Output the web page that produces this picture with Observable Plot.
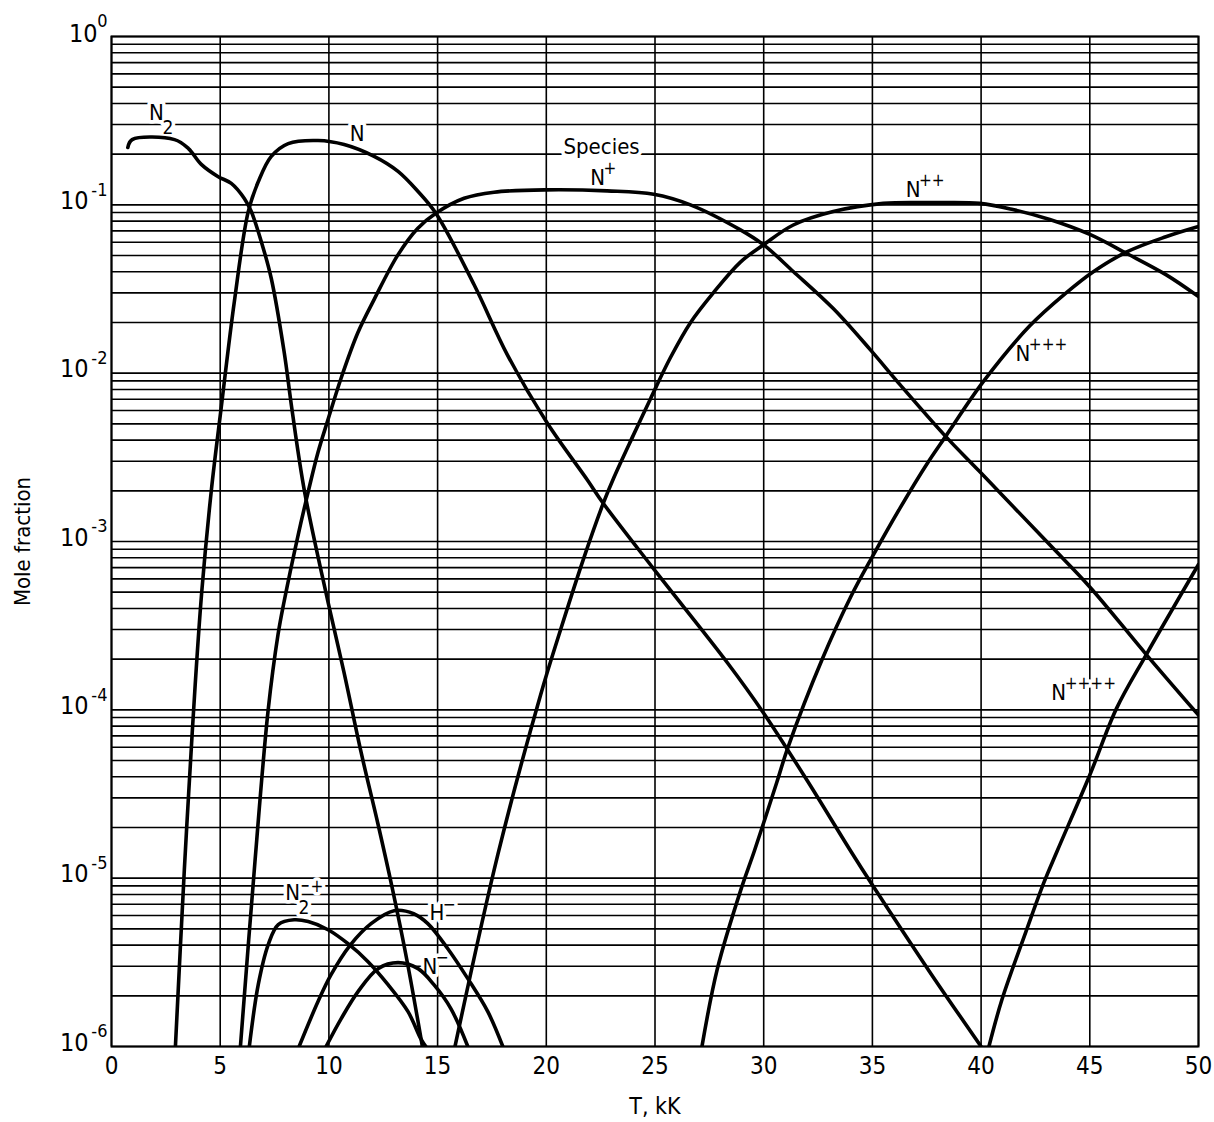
<!DOCTYPE html>
<html>
<head>
<meta charset="utf-8">
<script src="https://cdn.jsdelivr.net/npm/d3@7"></script>
<script src="https://cdn.jsdelivr.net/npm/@observablehq/plot@0.6"></script>
<style>
  html, body { margin: 0; padding: 0; background: #fff; overflow: hidden; }
  #chart svg { display: block; }
  #chart svg text { font-stretch: condensed; }
</style>
</head>
<body>
<div id="chart"></div>
<script>
// ---- Data: mole fraction vs temperature T (kK) ----
const tN2 = [0.75, 0.95, 2.9, 3.54, 4.13, 4.91, 5.51, 6.11, 6.43, 6.89, 7.35, 7.94, 8.3, 8.88, 9.96, 10.7, 11.48, 12.26, 12.9, 13.6, 14.3];
const vN2 = [0.219, 0.244, 0.244, 0.216, 0.174, 0.147, 0.134, 0.109, 0.0912, 0.0605, 0.0365, 0.0134, 0.0061, 0.00198, 4.37e-4, 1.66e-4, 5.6e-5, 2.09e-5, 8.9e-6, 3.2e-6, 1e-6];

const tN = [2.94, 3.35, 3.55, 3.85, 4.15, 4.59, 5.05, 5.65, 6.29, 6.75, 7.35, 8.13, 9.5, 10.7, 12.08, 13.18, 14.1, 14.92, 16.68, 18.21, 20.05, 21.89, 22.6, 24.93, 28.33, 30, 32, 34, 35, 37.7, 40];
const vN = [1e-6, 1.12e-5, 3.2e-5, 1.41e-4, 5.0e-4, 2.0e-3, 6.3e-3, 0.0266, 0.0912, 0.137, 0.194, 0.231, 0.241, 0.228, 0.194, 0.158, 0.12, 0.0891, 0.0335, 0.01285, 5.04e-3, 2.32e-3, 1.70e-3, 6.9e-4, 1.905e-4, 9.55e-5, 3.8e-5, 1.45e-5, 9.1e-6, 2.7e-6, 1e-6];

const tNp = [5.93, 6.6, 7.2, 7.66, 7.94, 8.59, 9.05, 9.5, 9.96, 10.56, 11.33, 12.09, 13.16, 14.08, 14.92, 16.22, 17.6, 19.98, 22.8, 24.94, 26.63, 28.93, 30, 31.36, 33.2, 34.9, 36.27, 38.4, 39.9, 43.16, 45, 47.6, 50];
const vNp = [1e-6, 1.26e-5, 9.8e-5, 2.8e-4, 4.4e-4, 1.1e-3, 1.98e-3, 3.39e-3, 5.3e-3, 9.33e-3, 0.01738, 0.02754, 0.0501, 0.0724, 0.0891, 0.1094, 0.1189, 0.1227, 0.121, 0.1156, 0.1, 0.071, 0.0578, 0.0402, 0.0242, 0.0138, 8.55e-3, 4.17e-3, 2.63e-3, 9.55e-4, 5.37e-4, 2.13e-4, 9.3e-5];

const tNpp = [15.8, 17.77, 19.74, 20.66, 21.72, 22.6, 23.11, 24.0, 24.8, 25.7, 26.63, 27.7, 28.93, 30, 31.36, 33.2, 35.5, 37.8, 39.94, 41.46, 43.16, 45, 46.7, 48.5, 50];
const vNpp = [1e-6, 1.38e-5, 1.23e-4, 3.0e-4, 7.94e-4, 1.66e-3, 2.4e-3, 4.27e-3, 7.08e-3, 0.0123, 0.01995, 0.0302, 0.0457, 0.058, 0.0759, 0.0912, 0.102, 0.103, 0.102, 0.0938, 0.0818, 0.0667, 0.0514, 0.0385, 0.0285];

const tNppp = [27.16, 27.87, 28.97, 29.57, 30.6, 31.1, 32.7, 34.0, 35.0, 36.27, 37.5, 38.4, 40.1, 42.24, 43.94, 45.13, 46.7, 48.5, 50];
const vNppp = [1e-6, 2.9e-6, 8.7e-6, 1.45e-5, 3.7e-5, 5.9e-5, 2.01e-4, 4.68e-4, 8.13e-4, 1.58e-3, 2.88e-3, 4.27e-3, 8.9e-3, 0.0191, 0.0302, 0.0398, 0.0525, 0.0646, 0.0743];

const tNpppp = [40.36, 40.96, 42.06, 42.9, 43.5, 45, 46.23, 47.6, 50];
const vNpppp = [1e-6, 1.9e-6, 4.8e-6, 9.5e-6, 1.45e-5, 4.1e-5, 1.02e-4, 2.13e-4, 7.3e-4];

const tN2p = [6.34, 6.75, 7.21, 7.67, 8.4, 9.05, 9.96, 10.88, 11.8, 12.72, 13.64, 14.23, 14.46];
const vN2p = [1e-6, 2.33e-6, 4.03e-6, 5.3e-6, 5.66e-6, 5.52e-6, 4.94e-6, 4.08e-6, 3.19e-6, 2.33e-6, 1.61e-6, 1.11e-6, 1e-6];

const tHm = [8.63, 9.5, 10.1, 11.0, 11.94, 13.0, 13.9, 14.55, 15.47, 16.39, 17.31, 18.0];
const vHm = [1e-6, 1.85e-6, 2.67e-6, 4.03e-6, 5.37e-6, 6.41e-6, 6.15e-6, 5.37e-6, 3.81e-6, 2.53e-6, 1.61e-6, 1e-6];

const tNm = [9.87, 10.56, 11.34, 12.26, 13.18, 14.1, 14.83, 15.61, 16.39];
const vNm = [1e-6, 1.46e-6, 2.12e-6, 2.9e-6, 3.15e-6, 2.9e-6, 2.33e-6, 1.68e-6, 1e-6];

const speciesNames = ["N2", "N", "N+", "N++", "N+++", "N++++", "N2+", "H-", "N-"];
const speciesT = [tN2, tN, tNp, tNpp, tNppp, tNpppp, tN2p, tHm, tNm];
const speciesV = [vN2, vN, vNp, vNpp, vNppp, vNpppp, vN2p, vHm, vNm];

// axis ticks
const xTicks = [0, 5, 10, 15, 20, 25, 30, 35, 40, 45, 50];
const yExps = [0, -1, -2, -3, -4, -5, -6];

// curve labels (anchor of the main letter, in data units)
const labelMain = [
  {T: 2.07, v: 0.3535, text: "N"},
  {T: 11.3, v: 0.262, text: "N"},
  {T: 22.54, v: 0.222, text: "Species"},
  {T: 22.36, v: 0.1452, text: "N"},
  {T: 36.87, v: 0.1233, text: "N"},
  {T: 41.92, v: 0.01307, text: "N"},
  {T: 43.57, v: 1.265e-4, text: "N"},
  {T: 8.33, v: 8.15e-6, text: "N"},
  {T: 14.97, v: 6.19e-6, text: "H"},
  {T: 14.65, v: 2.98e-6, text: "N"}
];
const labelSup = [
  {T: 22.36, v: 0.1452, text: "+"},
  {T: 36.87, v: 0.1233, text: "++"},
  {T: 41.92, v: 0.01307, text: "+++"},
  {T: 43.57, v: 1.265e-4, text: "++++"},
  {T: 14.97, v: 6.19e-6, text: "\u2212"},
  {T: 14.65, v: 2.98e-6, text: "\u2212"}
];
const labelSub = [
  {T: 2.07, v: 0.3535, text: "2"},
  {T: 8.33, v: 8.15e-6, text: "2"}
];
const labelSubSup = [
  {T: 8.33, v: 8.15e-6, text: "+"}
];

// ---- build table ----
const rows = speciesNames.flatMap((name, i) =>
  speciesT[i].map((T, j) => ({species: name, T, v: speciesV[i][j]})));

const yGrid = d3.scaleLog().domain([1e-6, 1]).ticks(20);

const FONT = '"DejaVu Sans Condensed", "Liberation Sans Narrow", "DejaVu Sans", sans-serif';

const halo = {stroke: "white", strokeWidth: 7, fill: "white"};

function labelMarks(extra) {
  return [
    Plot.text(labelMain, {x: "T", y: "v", text: "text", fontSize: 22, ...extra}),
    Plot.text(labelSup, {x: "T", y: "v", text: "text", fontSize: 17, textAnchor: "start", dx: 6, dy: -9, ...extra}),
    Plot.text(labelSub, {x: "T", y: "v", text: "text", fontSize: 19, textAnchor: "start", dx: 6, dy: 15, ...extra}),
    Plot.text(labelSubSup, {x: "T", y: "v", text: "text", fontSize: 17, textAnchor: "start", dx: 18, dy: -7, ...extra})
  ];
}

const chart = Plot.plot({
  width: 1214,
  height: 1122,
  marginLeft: 111,
  marginRight: 16,
  marginTop: 36,
  marginBottom: 76,
  style: {fontFamily: FONT, fontSize: "24px", background: "white", color: "black"},
  x: {domain: [0, 50]},
  y: {type: "log", domain: [1e-6, 1], axis: null},
  marks: [
    Plot.gridY({ticks: yGrid, stroke: "black", strokeOpacity: 1, strokeWidth: 1.6}),
    Plot.gridX({ticks: xTicks, stroke: "black", strokeOpacity: 1, strokeWidth: 1.6}),
    Plot.frame({stroke: "black", strokeWidth: 2}),
    ...labelMarks(halo),
    Plot.line(rows, {x: "T", y: "v", z: "species", stroke: "black", strokeWidth: 3.6,
      curve: "catmull-rom", clip: true, strokeLinejoin: "round", strokeLinecap: "round"}),
    ...labelMarks({fill: "black"}),
    Plot.axisX({ticks: xTicks, tickSize: 0, tickPadding: 10, label: null, fontSize: 24}),
    // y tick labels 10^n
    Plot.text(yExps.filter(e => e !== 0), {frameAnchor: "left", y: e => 10 ** e, text: () => "10",
      textAnchor: "end", lineAnchor: "middle", dx: -23, dy: -4, fontSize: 25}),
    Plot.text(yExps.filter(e => e === 0), {frameAnchor: "left", y: e => 10 ** e, text: () => "10",
      textAnchor: "end", lineAnchor: "middle", dx: -14, dy: -3, fontSize: 25}),
    Plot.text(yExps, {frameAnchor: "left", y: e => 10 ** e, text: e => e === 0 ? "0" : "-" + (-e),
      textAnchor: "end", lineAnchor: "middle", dx: -4, dy: -15, fontSize: 18}),
    // axis titles
    Plot.text(["T, kK"], {frameAnchor: "bottom", lineAnchor: "middle", textAnchor: "middle", dy: 60, fontSize: 23}),
    Plot.text(["Mole fraction"], {frameAnchor: "left", textAnchor: "middle", lineAnchor: "middle", dx: -89, rotate: -90, fontSize: 22})
  ]
});

document.getElementById("chart").appendChild(chart);
</script>
</body>
</html>
